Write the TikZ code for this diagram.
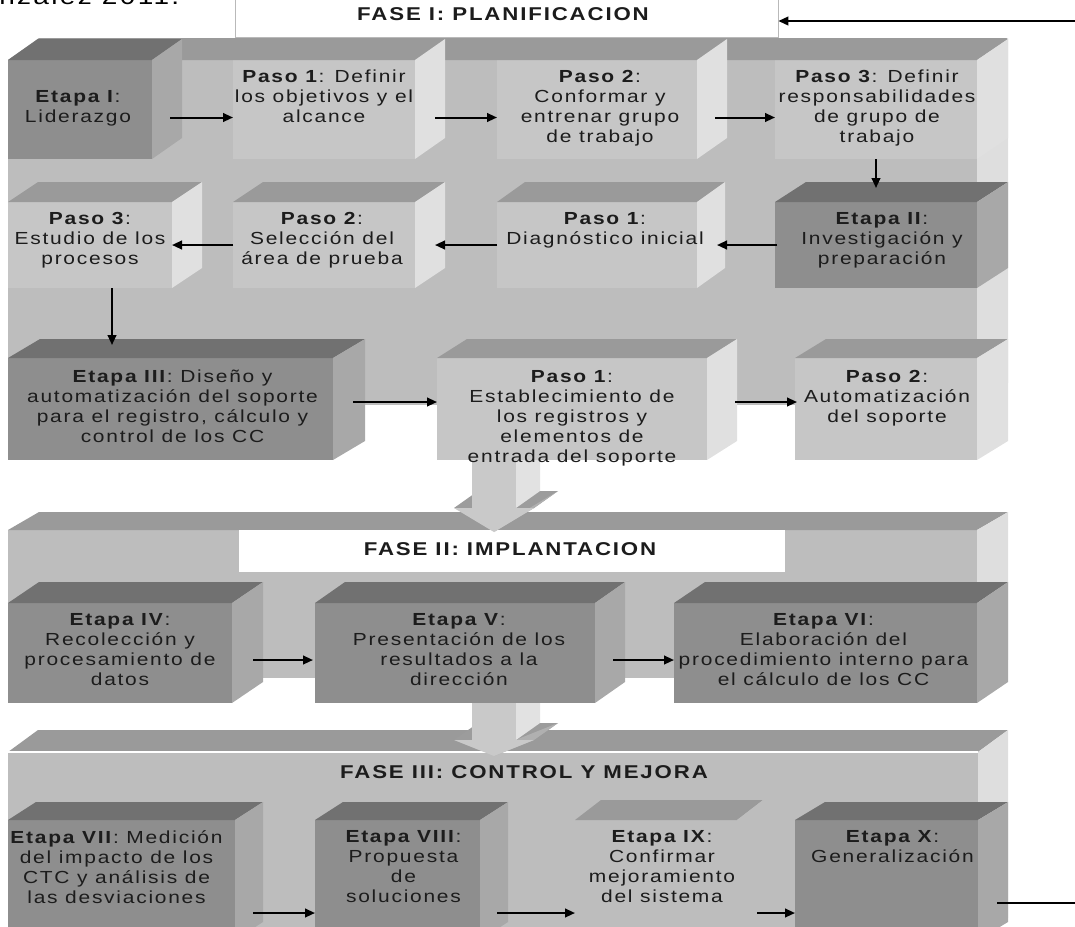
\documentclass[tikz,border=0pt]{standalone}
\usepackage{fontspec}
\setmainfont{Liberation Sans}[FakeStretch=1.2,LetterSpace=10]
\usetikzlibrary{arrows.meta,calc,fit}

% face colours of the 3D blocks
\definecolor{panelfront}{HTML}{BDBDBD}
\definecolor{paneltop}{HTML}{9A9A9A}
\definecolor{panelside}{HTML}{DEDEDE}
\definecolor{clarofront}{HTML}{C6C6C6}
\definecolor{clarotop}{HTML}{9A9A9A}
\definecolor{claroside}{HTML}{E0E0E0}
\definecolor{oscurofront}{HTML}{8E8E8E}
\definecolor{oscurotop}{HTML}{717171}
\definecolor{oscuroside}{HTML}{A8A8A8}
\definecolor{fantasmafront}{HTML}{BDBDBD}
\definecolor{fantasmatop}{HTML}{9A9A9A}
\definecolor{fantasmaside}{HTML}{BDBDBD}
\definecolor{flechafront}{HTML}{C9C9C9}
\definecolor{flechalado}{HTML}{E2E2E2}
\definecolor{flechatapa}{HTML}{9C9C9C}
\definecolor{flechabisel}{HTML}{B0B0B0}
\definecolor{texto}{HTML}{1C1C1C}

\newcommand\fuente{\fontsize{13.1pt}{15pt}\selectfont}
\newcommand\fuentetitulo{\fontsize{13.9pt}{16pt}\selectfont\bfseries}

% a block: front face as a named node, then its top and right faces
% #1 name, #2 top-left corner, #3 bottom-right corner, #4 colour set, #5 depth
\newcommand\cubo[5]{%
  \node[fit={#2 #3}, inner sep=0pt, outer sep=0pt, fill=#4front] (#1) {};
  \fill[#4top] (#1.north west) -- ([shift={#5}]#1.north west) -- ([shift={#5}]#1.north east) -- (#1.north east) -- cycle;
  \fill[#4side] (#1.north east) -- ([shift={#5}]#1.north east) -- ([shift={#5}]#1.south east) -- (#1.south east) -- cycle;
}

% wide 3D arrow between phases: #1 left, #2 right of shaft, #3 shaft top, #4 head base, #5 tip
\newcommand\flechagrande[5]{%
  \fill[flechatapa] (#1-18,#4) -- (#1+6,#4-17) -- (#2+42,#4-17) -- (#2+18,#4) -- cycle;
  \fill[flechabisel] (#2+18,#4) -- (#2+42,#4-17) -- ({(#1+#2)/2+24},#5-17) -- ({(#1+#2)/2},#5) -- cycle;
  \fill[flechafront] (#1-18,#4) -- (#2+18,#4) -- ({(#1+#2)/2},#5) -- cycle;
  \fill[flechalado] (#2,#3) -- (#2+24,#3) -- (#2+24,#4-17) -- (#2,#4) -- cycle;
  \fill[flechafront] (#1,#3) rectangle (#2,#4);
}

\tikzset{
  txt/.style={align=center, inner sep=0pt, font=\fuente, text=texto, anchor=north},
  titulo/.style={inner sep=0pt, font=\fuentetitulo, text=texto},
  flecha/.style={draw=black, line width=1.5pt, -{Triangle[length=7.5pt,width=6.5pt]}},
  linea/.style={draw=black, line width=0.8pt}
}

\begin{document}
\begin{tikzpicture}[x=0.75pt,y=-0.75pt]
\useasboundingbox (0,0) rectangle (1075,926);

% caption cut at the top edge
\node[anchor=base west, inner sep=0pt, font=\fontsize{17.5pt}{20pt}\selectfont, text=black] (cita) at (-1,4) {nzalez 2011.};

% phase panels
\cubo{f1p}{(8,60)}{(977,405)}{panel}{(31,-22)}
\cubo{f2p}{(8,530)}{(977,678)}{panel}{(31,-18)}
\cubo{f3p}{(8,752)}{(978,940)}{panel}{(30,-22)}
\draw[white, line width=1.2pt] (f3p.north west) -- (f3p.north east);

% phase title boxes
\node[fit={(235,-6) (778,37)}, inner sep=0pt, fill=white, draw=gray!55, line width=0.6pt] (f1) {};
\node[fit={(239,530) (785,572)}, inner sep=0pt, fill=white] (f2) {};

% FASE I blocks
\cubo{e1}{(8,60)}{(152,159)}{oscuro}{(30,-21)}
\cubo{p11}{(233,60)}{(415,159)}{claro}{(30,-21)}
\cubo{p12}{(497,60)}{(697,159)}{claro}{(30,-21)}
\cubo{p13}{(775,60)}{(977,159)}{claro}{(31,-21)}
\cubo{p23}{(8,202)}{(172,288)}{claro}{(30,-20)}
\cubo{p22}{(233,202)}{(415,288)}{claro}{(30,-20)}
\cubo{p21}{(497,202)}{(697,288)}{claro}{(28,-20)}
\cubo{e2}{(775,202)}{(977,288)}{oscuro}{(31,-20)}
\cubo{e3}{(8,358)}{(333,460)}{oscuro}{(32,-19)}
\cubo{p31}{(437,358)}{(707,460)}{claro}{(30,-19)}
\cubo{p32}{(795,358)}{(977,460)}{claro}{(31,-19)}

% FASE II blocks
\cubo{e4}{(8,603)}{(232,703)}{oscuro}{(31,-21)}
\cubo{e5}{(315,603)}{(595,703)}{oscuro}{(30,-21)}
\cubo{e6}{(674,603)}{(977,703)}{oscuro}{(31,-21)}

% FASE III blocks
\cubo{e7}{(8,820)}{(235,940)}{oscuro}{(28,-18)}
\cubo{e8}{(315,820)}{(480,940)}{oscuro}{(28,-18)}
\cubo{e9}{(575,820)}{(737,940)}{fantasma}{(26,-20)}
\cubo{e10}{(795,820)}{(978,940)}{oscuro}{(30,-18)}

% arrows between phases
\flechagrande{472}{516}{460}{508}{532}
\flechagrande{472}{516}{703}{740}{756}

% titles
\node[titulo] (f1t) at (503,14) {FASE I: PLANIFICACION};
\node[titulo] (f2t) at (510,549) {FASE II: IMPLANTACION};
\node[titulo] (f3t) at (524,772) {FASE III: CONTROL Y MEJORA};

% block texts
\node[txt] (e1t) at ($(e1.north)+(-2,30)$) {\textbf{Etapa I}:\\Liderazgo};
\node[txt] (p11t) at ($(p11.north)+(0,10)$) {\textbf{Paso 1}: Definir\\los objetivos y el\\alcance};
\node[txt] (p12t) at ($(p12.north)+(3,10)$) {\textbf{Paso 2}:\\Conformar y\\entrenar grupo\\de trabajo};
\node[txt] (p13t) at ($(p13.north)+(1,10)$) {\textbf{Paso 3}: Definir\\responsabilidades\\de grupo de\\trabajo};
\node[txt] (p23t) at ($(p23.north)+(0,10)$) {\textbf{Paso 3}:\\Estudio de los\\procesos};
\node[txt] (p22t) at ($(p22.north)+(-2,10)$) {\textbf{Paso 2}:\\Selección del\\área de prueba};
\node[txt] (p21t) at ($(p21.north)+(8,10)$) {\textbf{Paso 1}:\\Diagnóstico inicial};
\node[txt] (e2t) at ($(e2.north)+(6,10)$) {\textbf{Etapa II}:\\Investigación y\\preparación};
\node[txt] (e3t) at ($(e3.north)+(2,12)$) {\textbf{Etapa III}: Diseño y\\automatización del soporte\\para el registro, cálculo y\\control de los CC};
\node[txt] (p31t) at ($(p31.north)+(0,12)$) {\textbf{Paso 1}:\\Establecimiento de\\los registros y\\elementos de\\entrada del soporte};
\node[txt] (p32t) at ($(p32.north)+(1,12)$) {\textbf{Paso 2}:\\Automatización\\del soporte};
\node[txt] (e4t) at ($(e4.north)+(0,10)$) {\textbf{Etapa IV}:\\Recolección y\\procesamiento de\\datos};
\node[txt] (e5t) at ($(e5.north)+(4,10)$) {\textbf{Etapa V}:\\Presentación de los\\resultados a la\\dirección};
\node[txt] (e6t) at ($(e6.north)+(-2,10)$) {\textbf{Etapa VI}:\\Elaboración del\\procedimiento interno para\\el cálculo de los CC};
\node[txt] (e7t) at ($(e7.north)+(-5,10)$) {\textbf{Etapa VII}: Medición\\del impacto de los\\CTC y análisis de\\las desviaciones};
\node[txt] (e8t) at ($(e8.north)+(6,10)$) {\textbf{Etapa VIII}:\\Propuesta\\de\\soluciones};
\node[txt] (e9t) at ($(e9.north)+(6,10)$) {\textbf{Etapa IX}:\\Confirmar\\mejoramiento\\del sistema};
\node[txt] (e10t) at ($(e10.north)+(6,10)$) {\textbf{Etapa X}:\\Generalización};

% FASE I flow
\draw[flecha] ($(e1.east)+(18,8)$) -- ($(p11.west)+(0,8)$);
\draw[flecha] ($(p11.east)+(20,8)$) -- ($(p12.west)+(0,8)$);
\draw[flecha] ($(p12.east)+(18,8)$) -- ($(p13.west)+(0,8)$);
\draw[flecha] (p13.south) -- ($(e2.north)+(0,-14)$);
\draw[flecha] ($(e2.west)+(2,0)$) -- ($(p21.east)+(20,0)$);
\draw[flecha] (p21.west) -- ($(p22.east)+(20,0)$);
\draw[flecha] (p22.west) -- (p23.east);
\coordinate (v1) at ($(p23.south)+(22,0)$);
\coordinate (v1e) at ($(e3.north west)+(104,-13)$);
\draw[flecha] (v1) -- (v1e);
\draw[flecha] ($(e3.east)+(20,-7)$) -- ($(p31.west)+(0,-7)$);
\draw[flecha] ($(p31.east)+(28,-7)$) -- ($(p32.west)+(2,-7)$);

% FASE II flow
\draw[flecha] ($(e4.east)+(21,7)$) -- ($(e5.west)+(-2,7)$);
\draw[flecha] ($(e5.east)+(18,7)$) -- ($(e6.west)+(0,7)$);

% FASE III flow
\draw[flecha] ($(e7.east)+(18,33)$) -- ($(e8.west)+(0,33)$);
\draw[flecha] ($(e8.east)+(17,33)$) -- ($(e9.west)+(0,33)$);
\draw[flecha] ($(e9.east)+(20,33)$) -- ($(e10.west)+(0,33)$);

% feedback line leaving the last stage and returning to FASE I
\coordinate (salida) at (1075,903);
\coordinate (retorno) at (1075,21);
\draw[linea] ($(e10.east |- salida)+(19,0)$) -- (salida);
\draw[flecha] (retorno) -- (f1.east |- retorno);
\end{tikzpicture}
\end{document}
